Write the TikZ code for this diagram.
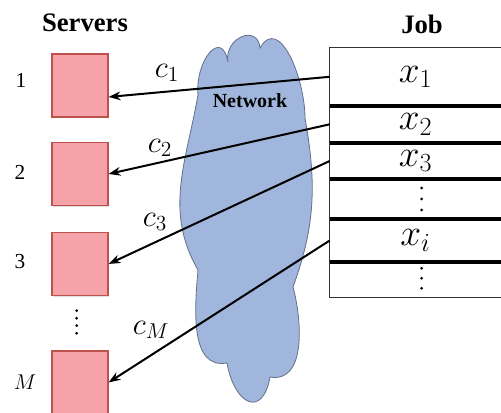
\documentclass[tikz,border=0pt]{standalone}
\usepackage{fix-cm}
\usepackage{fontspec}
\setmainfont{Liberation Serif}
\usepackage{amsmath}
\usetikzlibrary{arrows.meta,shadows}

\definecolor{boxfill}{RGB}{245,163,169}
\definecolor{boxline}{RGB}{192,80,77}
\definecolor{cloudfill}{RGB}{161,182,220}
\definecolor{cloudline}{RGB}{98,112,138}
\definecolor{tabline}{RGB}{50,50,50}

\tikzset{
  server/.style={rectangle, draw=boxline, fill=boxfill, line width=0.8pt,
    minimum width=42pt, minimum height=47.25pt, inner sep=0pt,
    drop shadow={shadow xshift=0.8pt, shadow yshift=-0.8pt, opacity=0.25}},
  jobrow/.style={rectangle, minimum width=128.25pt, inner sep=0pt,
    font=\fontsize{28}{30}\selectfont},
  link/.style={line width=1.5pt, -{Stealth[length=9pt,width=6.5pt]}},
  cost/.style={font=\fontsize{23}{26}\selectfont},
  title/.style={font=\fontsize{20}{24}\selectfont\bfseries},
  idx/.style={font=\fontsize{16}{18}\selectfont},
  sep/.style={draw=black, line width=3pt},
}

\begin{document}
\begin{tikzpicture}[x=0.75pt,y=0.75pt]
  \useasboundingbox (0,0) rectangle (501,413);

  % Network cloud
  \draw[cloudline, fill=cloudfill, line width=0.6pt]
    (228,351) to[out=100,in=95,looseness=1.8] (260,365)
    to[out=60,in=90,looseness=1.2] (305,295)
    to[out=-80,in=70] (293,126)
    to[out=-75,in=-10] (270,36)
    to[out=-100,in=-80,looseness=2.4] (227,50)
    to[out=190,in=-95] (198,143)
    to[out=120,in=-100] (198,318)
    to[out=95,in=100,looseness=2] (228,351) -- cycle;
  \node[font=\fontsize{15}{18}\selectfont\bfseries] (net) at (250,312) {Network};

  % Define nodes
  \node[title] (srv) at (85,390.5) {Servers};
  \node[title] (job) at (422,389) {Job};

  \node[server] (s1) at (80,327.5) {};
  \node[server] (s2) at (80,239) {};
  \node[server] (s3) at (80,149) {};
  \node[server] (sM) at (80,30.5) {};

  \node[idx] (l1) at (21,333) {1};
  \node[idx] (l2) at (20,241) {2};
  \node[idx] (l3) at (20,151) {3};
  \node[idx] (lM) at (25,31) {$M$};

  \foreach \y in {102.3,94.7,87.3,79.7}
    \fill (76.7,\y) circle (1.5);

  % Job table
  \node[jobrow, minimum height=43.2pt] (r1) at (415.5,336.2) {$x_1$};
  \node[jobrow, minimum height=28.05pt] (r2) at (415.5,288.7) {$x_2$};
  \node[jobrow, minimum height=27pt] (r3) at (415.5,252) {$x_3$};
  \node[jobrow, minimum height=30pt] (r4) at (415.5,214) {};
  \node[jobrow, minimum height=32.25pt] (r5) at (415.5,172.5) {$x_i$};
  \node[jobrow, minimum height=26.25pt] (r6) at (415.5,133.5) {};

  \draw[tabline, line width=1pt] (r1.north east) -- (r1.north west) -- (r6.south west) -- (r6.south east);
  \foreach \a/\b in {r1/r2,r2/r3,r3/r4,r4/r5,r5/r6}
    \draw[sep] (\a.south west) -- (\a.south east);

  \foreach \y in {225,214,203,144.7,134.7,124.7}
    \fill (421.7,\y) circle (1.5);

  % Connect the nodes
  \draw[link] (r1.west) -- ([yshift=-8.6pt]s1.east);
  \draw[link] (r2.west) -- (s2.east);
  \draw[link] (r3.west) -- (s3.east);
  \draw[link] (r5.west) -- (sM.east);

  \node[cost] (c1) at (167,340) {$c_1$};
  \node[cost] (c2) at (160,265) {$c_2$};
  \node[cost] (c3) at (155,191) {$c_3$};
  \node[cost] (cM) at (151,83) {$c_M$};

\end{tikzpicture}
\end{document}
